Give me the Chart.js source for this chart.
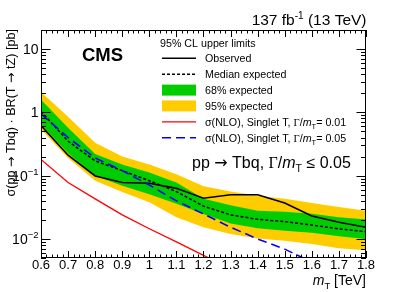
<!DOCTYPE html>
<html><head><meta charset="utf-8">
<script src="https://cdn.jsdelivr.net/npm/chart.js@4/dist/chart.umd.min.js"></script>
<style>html,body{margin:0;padding:0;background:#fff;}#wrap{width:407px;height:292px;position:relative;}</style>
</head><body><div id="wrap"><canvas id="c" width="407" height="292"></canvas></div>
<script>
// ---- data ----
const massTeV = [0.6,0.7,0.8,0.9,1.0,1.1,1.2,1.3,1.4,1.5,1.6,1.7,1.8];
const observed       = [0.62,0.21,0.099,0.078,0.076,0.063,0.044,0.050,0.050,0.037,0.023,0.0184,0.0153];
const expectedMedian = [1.04,0.35,0.171,0.12,0.083,0.056,0.033,0.024,0.0204,0.0188,0.0166,0.0144,0.013];
const expected68Up   = [1.58,0.57,0.22,0.15,0.112,0.078,0.043,0.034,0.028,0.027,0.025,0.022,0.0202];
const expected68Down = [0.65,0.226,0.10,0.069,0.051,0.036,0.0248,0.0175,0.0148,0.0135,0.0125,0.011,0.0100];
const expected95Up   = [2.1,0.85,0.33,0.20,0.15,0.105,0.068,0.056,0.048,0.043,0.037,0.032,0.028];
const expected95Down = [0.54,0.19,0.083,0.055,0.038,0.022,0.0153,0.012,0.0102,0.0094,0.0083,0.0071,0.0066];
const theoryMass     = [0.6,0.7,0.8,0.9,1.0,1.1,1.2,1.3,1.4,1.5,1.6];
const sigmaNLO001    = [0.18,0.078,0.043,0.024,0.0145,0.009,0.0055,0.0034];
const sigmaNLO005    = [0.94,0.40,0.19,0.12,0.071,0.040,0.0248,0.0153,0.0100,0.0069,0.0043];
const xTickLabels = ['0.6','0.7','0.8','0.9','1','1.1','1.2','1.3','1.4','1.5','1.6','1.7','1.8'];
const yMajorTicks = [0.01,0.1,1,10];
const yTickLabels = [['10','−2'],['10','−1'],['1',''],['10','']];

const SANS = '"Liberation Sans", Arial, Helvetica, sans-serif';
const SERIF = '"Liberation Serif", "Times New Roman", serif';
const ARROWF = '"DejaVu Sans", sans-serif';

function pts(xs, ys){ return ys.map((y,i)=>({x:xs[i], y:y})); }

function drawRich(ctx, x, y, parts, align){
  let w = 0;
  for (const p of parts){ ctx.font = p.f; p.w = ctx.measureText(p.t).width; w += p.w; }
  let cx = align === 'right' ? x - w : (align === 'center' ? x - w/2 : x);
  for (const p of parts){ ctx.font = p.f; ctx.fillText(p.t, cx, y + (p.dy||0)); cx += p.w; }
  return w;
}

const decor = {
  id: 'decor',
  afterDatasetsDraw(chart){
    const ctx = chart.ctx, a = chart.chartArea;
    const xs = chart.scales.x, ys = chart.scales.y;
    ctx.save();
    ctx.strokeStyle = '#000'; ctx.lineWidth = 1;
    ctx.strokeRect(Math.round(a.left)+0.5, Math.round(a.top)+0.5, Math.round(a.right-a.left)-1, Math.round(a.bottom-a.top)-1);
    ctx.beginPath();
    // x ticks (bottom + top)
    for (let i = 0; i <= 60; i++){
      const v = 0.6 + i*0.02;
      const px = Math.round(xs.getPixelForValue(v)) + 0.5;
      const L = (i % 5 === 0) ? 7 : 3.5;
      ctx.moveTo(px, a.bottom); ctx.lineTo(px, a.bottom - L);
      ctx.moveTo(px, a.top); ctx.lineTo(px, a.top + L);
    }
    // y ticks (left + right)
    for (let e = -3; e <= 1; e++){
      for (let k = 1; k <= 9; k++){
        const v = k * Math.pow(10, e);
        if (v < ys.min*0.999 || v > ys.max*1.001) continue;
        const py = Math.round(ys.getPixelForValue(v)) + 0.5;
        const L = (k === 1) ? 9.5 : 5;
        ctx.moveTo(a.left, py); ctx.lineTo(a.left + L, py);
        ctx.moveTo(a.right, py); ctx.lineTo(a.right - L, py);
      }
    }
    ctx.stroke();

    ctx.fillStyle = '#000'; ctx.textAlign = 'left'; ctx.textBaseline = 'alphabetic';
    // x tick labels
    ctx.font = '13px ' + SANS; ctx.textAlign = 'center';
    massTeV.forEach((m,i)=>{ ctx.fillText(xTickLabels[i], xs.getPixelForValue(m), 268.5); });
    ctx.textAlign = 'left';
    // y tick labels
    yMajorTicks.forEach((v,i)=>{
      const py = ys.getPixelForValue(v);
      const lab = yTickLabels[i];
      const parts = [{t:lab[0], f:'14px '+SANS}];
      if (lab[1]) parts.push({t:lab[1], f:'9.5px '+SANS, dy:-6});
      drawRich(ctx, 38.5, py + 5, parts, 'right');
    });
    // x title
    drawRich(ctx, a.right, 285, [
      {t:'m', f:'italic 14px '+SANS},
      {t:'T', f:'9.5px '+SANS, dy:3.5},
      {t:' [TeV]', f:'14px '+SANS}], 'right');
    // y title (rotated)
    ctx.save();
    ctx.translate(15, 29);
    ctx.rotate(-Math.PI/2);
    const TF = '12.6px ' + SANS, AF = '12.6px ' + ARROWF;
    drawRich(ctx, 0, 0, [
      {t:'σ(pp ', f:TF}, {t:'→', f:AF}, {t:' Tbq) · BR(T ', f:TF}, {t:'→', f:AF}, {t:' tZ) [pb]', f:TF}
    ], 'right');
    ctx.restore();
    // luminosity
    drawRich(ctx, a.right + 0.5, 25, [
      {t:'137 fb', f:'15.5px '+SANS},
      {t:'-1', f:'10px '+SANS, dy:-6},
      {t:' (13 TeV)', f:'15.5px '+SANS}], 'right');
    // CMS
    ctx.font = 'bold 18.5px ' + SANS;
    ctx.fillText('CMS', 82, 61);
    // process label
    drawRich(ctx, 192, 168, [
      {t:'pp ', f:'16px '+SANS},
      {t:'→', f:'16px '+ARROWF},
      {t:' Tbq, ', f:'16px '+SANS},
      {t:'Γ', f:'16px '+SERIF},
      {t:'/', f:'16px '+SANS},
      {t:'m', f:'italic 16px '+SANS},
      {t:'T', f:'10.5px '+SANS, dy:4},
      {t:' ≤ 0.05', f:'16px '+SANS}], 'left');

    // legend
    const ds = chart.data.datasets;
    const LF = '10.7px ' + SANS;
    ctx.font = LF;
    ctx.fillText('95% CL upper limits', 160, 47);
    const x0 = 162, x1 = 196, tx = 205;
    const rows = [58.3, 74.2, 90.1, 105.9, 121.8, 137.7];
    const lineSample = (d, cy)=>{
      ctx.save();
      ctx.strokeStyle = d.borderColor; ctx.lineWidth = d.borderWidth;
      ctx.setLineDash(d.borderDash || []);
      ctx.beginPath(); ctx.moveTo(x0, cy); ctx.lineTo(x1, cy); ctx.stroke();
      ctx.restore();
    };
    ctx.font = LF;
    lineSample(ds[5], rows[0]);
    ctx.fillText('Observed', tx, rows[0] + 3.8);
    lineSample(ds[4], rows[1]);
    ctx.fillText('Median expected', tx, rows[1] + 3.8);
    ctx.fillStyle = ds[2].backgroundColor; ctx.fillRect(x0, rows[2] - 5.5, x1 - x0, 11);
    ctx.fillStyle = '#000'; ctx.fillText('68% expected', tx, rows[2] + 3.8);
    ctx.fillStyle = ds[0].backgroundColor; ctx.fillRect(x0, rows[3] - 5.5, x1 - x0, 11);
    ctx.fillStyle = '#000'; ctx.fillText('95% expected', tx, rows[3] + 3.8);
    const nlo = (w)=>[
      {t:'σ(NLO), Singlet T, ', f:LF},
      {t:'Γ', f:'10.7px '+SERIF},
      {t:'/', f:LF},
      {t:'m', f:'italic '+LF},
      {t:'T', f:'7.5px '+SANS, dy:3},
      {t:'= ' + w, f:LF}];
    lineSample(ds[6], rows[4]);
    drawRich(ctx, tx, rows[4] + 3.8, nlo('0.01'), 'left');
    lineSample(ds[7], rows[5]);
    drawRich(ctx, tx, rows[5] + 3.8, nlo('0.05'), 'left');
    ctx.restore();
  }
};

const band = (data, fill, color, order) => ({
  data, fill, backgroundColor: color, borderColor: 'rgba(0,0,0,0)', borderWidth: 0,
  pointRadius: 0, tension: 0, order
});

new Chart(document.getElementById('c'), {
  type: 'line',
  data: {
    datasets: [
      band(pts(massTeV, expected95Up), '+1', '#ffcc00', 10),
      band(pts(massTeV, expected95Down), false, '#ffcc00', 10),
      band(pts(massTeV, expected68Up), '+1', '#00cc00', 9),
      band(pts(massTeV, expected68Down), false, '#00cc00', 9),
      { label:'Median expected', data: pts(massTeV, expectedMedian), borderColor:'#000', borderWidth:1.5,
        borderDash:[3,2], pointRadius:0, fill:false, tension:0, order:4 },
      { label:'Observed', data: pts(massTeV, observed), borderColor:'#000', borderWidth:1.6,
        pointRadius:0, fill:false, tension:0, order:3 },
      { label:'NLO 0.01', data: pts(theoryMass, sigmaNLO001), borderColor:'#ff0000', borderWidth:1.3,
        pointRadius:0, fill:false, tension:0, order:2 },
      { label:'NLO 0.05', data: pts(theoryMass, sigmaNLO005), borderColor:'#0000ff', borderWidth:1.6,
        borderDash:[9,5], pointRadius:0, fill:false, tension:0, order:1 }
    ]
  },
  options: {
    responsive: false, animation: false, devicePixelRatio: 1,
    layout: { padding: { left: 41, right: 41, top: 30, bottom: 34 } },
    scales: {
      x: { type:'linear', min:0.6, max:1.8, display:false },
      y: { type:'logarithmic', min:0.005, max:20, display:false }
    },
    plugins: { legend:{display:false}, tooltip:{enabled:false}, filler:{propagate:false} }
  },
  plugins: [decor]
});
</script>
</body></html>
